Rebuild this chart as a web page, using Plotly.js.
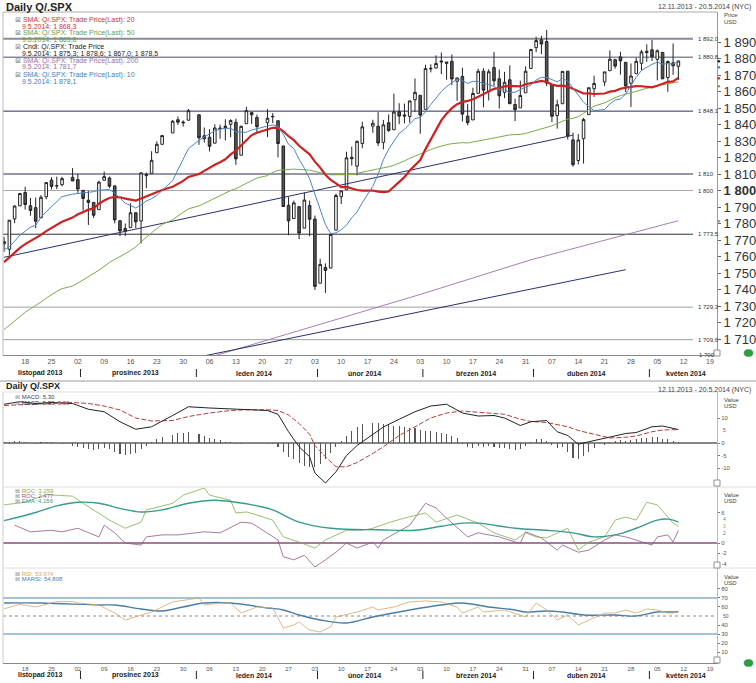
<!DOCTYPE html>
<html><head><meta charset="utf-8">
<script src="https://cdn.plot.ly/plotly-3.0.1.min.js"></script>
<style>html,body{margin:0;padding:0;background:#fff}#chart{width:756px;height:683px}</style>
</head><body><div id="chart"></div>
<script>
// ---------------- DATA ----------------
const dates = ['2013-11-12','2013-11-13','2013-11-14','2013-11-15','2013-11-18','2013-11-19','2013-11-20','2013-11-21','2013-11-22','2013-11-25','2013-11-26','2013-11-27','2013-11-29',
'2013-12-02','2013-12-03','2013-12-04','2013-12-05','2013-12-06','2013-12-09','2013-12-10','2013-12-11','2013-12-12','2013-12-13','2013-12-16','2013-12-17','2013-12-18','2013-12-19','2013-12-20','2013-12-23','2013-12-24','2013-12-26','2013-12-27','2013-12-30','2013-12-31',
'2014-01-02','2014-01-03','2014-01-06','2014-01-07','2014-01-08','2014-01-09','2014-01-10','2014-01-13','2014-01-14','2014-01-15','2014-01-16','2014-01-17','2014-01-21','2014-01-22','2014-01-23','2014-01-24','2014-01-27','2014-01-28','2014-01-29','2014-01-30','2014-01-31',
'2014-02-03','2014-02-04','2014-02-05','2014-02-06','2014-02-07','2014-02-10','2014-02-11','2014-02-12','2014-02-13','2014-02-14','2014-02-18','2014-02-19','2014-02-20','2014-02-21','2014-02-24','2014-02-25','2014-02-26','2014-02-27','2014-02-28',
'2014-03-03','2014-03-04','2014-03-05','2014-03-06','2014-03-07','2014-03-10','2014-03-11','2014-03-12','2014-03-13','2014-03-14','2014-03-17','2014-03-18','2014-03-19','2014-03-20','2014-03-21','2014-03-24','2014-03-25','2014-03-26','2014-03-27','2014-03-28','2014-03-31',
'2014-04-01','2014-04-02','2014-04-03','2014-04-04','2014-04-07','2014-04-08','2014-04-09','2014-04-10','2014-04-11','2014-04-14','2014-04-15','2014-04-16','2014-04-17','2014-04-21','2014-04-22','2014-04-23','2014-04-24','2014-04-25','2014-04-28','2014-04-29','2014-04-30',
'2014-05-01','2014-05-02','2014-05-05','2014-05-06','2014-05-07','2014-05-08','2014-05-09'];

const opens = [1769.0,1764.4,1782.8,1790.7,1798.8,1790.8,1789.6,1783.5,1796.2,1806.3,1802.9,1803.5,1808.0,
1806.6,1800.1,1794.1,1792.8,1788.4,1806.2,1807.6,1802.8,1781.7,1777.0,1777.5,1786.5,1781.5,1809.0,1810.4,1822.9,1828.0,1834.9,1842.9,1841.5,1842.6,
1845.9,1833.2,1832.3,1828.7,1837.9,1839.0,1840.1,1841.3,1821.4,1840.5,1847.2,1844.2,1841.1,1844.7,1842.3,1827.0,1791.0,1783.0,1790.2,1777.2,1790.9,
1782.7,1743.8,1753.4,1753.0,1776.0,1796.2,1800.5,1820.1,1814.8,1828.5,1839.0,1838.9,1829.2,1841.1,1836.8,1847.7,1845.8,1844.9,1855.1,
1857.7,1849.2,1874.1,1874.2,1878.5,1877.9,1878.3,1866.2,1869.1,1845.1,1842.8,1858.9,1872.3,1860.1,1874.5,1867.7,1859.5,1867.1,1852.1,1850.1,1859.2,
1874.0,1886.6,1891.4,1890.3,1863.9,1845.5,1852.6,1872.3,1830.7,1818.2,1831.4,1846.0,1861.7,1865.8,1872.6,1879.3,1881.0,1877.7,1865.0,1870.8,1877.1,
1884.4,1885.3,1879.5,1883.7,1868.5,1877.4,1875.3];

const highs = [1771.8,1782.0,1791.0,1798.2,1802.3,1795.5,1795.7,1797.2,1804.8,1808.1,1808.4,1808.3,1813.6,
1810.0,1800.1,1799.8,1792.8,1806.0,1811.5,1808.5,1803.0,1782.0,1780.0,1792.2,1786.8,1811.1,1810.9,1823.8,1829.8,1833.3,1842.8,1844.9,1842.5,1849.4,
1845.9,1838.2,1837.2,1840.1,1840.0,1843.2,1843.2,1843.5,1839.3,1850.8,1847.2,1846.0,1849.3,1846.9,1842.3,1827.0,1796.0,1793.9,1790.2,1798.8,1793.9,
1784.8,1758.7,1755.8,1774.1,1798.0,1799.9,1823.5,1826.6,1830.3,1841.7,1842.9,1847.5,1842.8,1846.1,1858.7,1852.9,1852.7,1854.5,1867.9,
1857.7,1876.2,1876.5,1881.9,1883.6,1877.9,1882.4,1868.4,1874.4,1852.4,1862.3,1873.8,1874.1,1873.5,1884.0,1873.3,1871.9,1875.9,1855.6,1866.6,1875.2,
1885.8,1893.2,1893.8,1897.3,1864.0,1855.0,1872.4,1872.5,1835.1,1834.2,1844.0,1862.3,1869.6,1871.9,1884.9,1879.8,1884.1,1877.7,1877.0,1880.6,1885.2,
1888.6,1891.3,1885.5,1883.7,1878.8,1889.1,1878.6];

const lows = [1762.9,1760.6,1780.2,1790.7,1788.4,1784.7,1777.2,1783.5,1794.7,1800.6,1800.8,1802.6,1805.8,
1798.6,1787.9,1779.1,1783.4,1788.4,1806.2,1801.4,1780.1,1772.3,1772.4,1777.5,1777.1,1767.9,1801.4,1810.4,1822.9,1828.0,1834.9,1839.8,1838.8,1842.4,
1827.7,1829.1,1823.7,1828.7,1831.4,1830.4,1832.4,1815.5,1821.4,1840.5,1840.3,1835.2,1832.4,1840.9,1820.1,1790.3,1772.9,1783.0,1770.5,1777.2,1772.3,
1739.7,1743.8,1737.9,1753.0,1776.0,1791.8,1800.5,1815.1,1809.2,1825.6,1835.0,1827.0,1824.9,1835.6,1836.8,1840.2,1840.7,1841.1,1847.7,
1834.4,1849.2,1871.6,1874.2,1870.6,1867.1,1863.9,1854.4,1841.9,1839.6,1842.8,1858.9,1850.4,1854.6,1863.5,1849.7,1856.0,1852.6,1842.1,1850.1,1859.2,
1874.0,1883.8,1882.7,1863.3,1841.5,1837.5,1852.4,1830.9,1814.4,1815.8,1816.3,1846.0,1856.7,1863.2,1872.6,1873.9,1870.2,1859.7,1850.6,1870.8,1872.7,
1878.0,1878.5,1866.8,1867.7,1859.8,1870.1,1867.0];

const closes = [1767.7,1782.0,1790.6,1798.2,1791.5,1787.9,1781.4,1795.9,1804.8,1802.5,1802.8,1807.2,1805.8,
1800.9,1795.2,1792.8,1785.0,1805.1,1808.4,1802.6,1782.2,1775.5,1775.3,1786.5,1781.0,1810.7,1809.6,1818.3,1828.0,1833.3,1842.0,1841.4,1841.1,1848.4,
1832.0,1831.4,1826.8,1837.9,1837.5,1838.1,1842.4,1819.2,1838.9,1848.4,1845.9,1838.7,1843.8,1844.9,1828.5,1790.3,1781.6,1792.5,1774.2,1794.2,1782.6,
1741.9,1755.2,1751.6,1773.4,1797.0,1799.8,1819.8,1819.3,1829.8,1838.6,1840.8,1828.8,1839.8,1836.3,1847.6,1845.1,1845.2,1854.3,1859.5,
1845.7,1873.9,1873.8,1877.0,1878.0,1877.2,1867.6,1868.2,1846.3,1841.1,1858.8,1872.3,1860.8,1872.0,1866.5,1857.4,1865.6,1852.6,1849.0,1857.6,1872.3,
1885.5,1890.9,1888.8,1865.1,1845.0,1852.0,1872.2,1833.1,1815.7,1830.6,1843.0,1862.3,1864.9,1871.9,1879.6,1875.4,1878.6,1863.4,1869.4,1878.3,1884.0,
1883.7,1881.1,1884.7,1867.7,1878.2,1875.6,1878.5];

const sma10 = [1764.0,1765.9,1769.3,1773.0,1775.3,1777.8,1778.9,1783.8,1787.2,1790.3,1793.8,1796.3,1797.8,
1798.1,1798.4,1798.9,1799.3,1800.2,1800.6,1800.6,1798.5,1795.4,1792.3,1790.9,1789.4,1791.2,1793.7,1795.0,1797.0,1800.0,1806.0,1812.6,1819.2,1825.4,
1830.5,1832.6,1834.3,1836.2,1837.2,1837.7,1837.7,1835.5,1835.3,1835.3,1836.7,1837.4,1839.1,1839.8,1838.9,1834.1,1828.0,1825.4,1818.9,1813.5,1807.1,
1797.5,1788.6,1779.3,1773.8,1774.4,1776.2,1779.0,1783.5,1787.0,1792.6,1802.5,1809.9,1818.7,1825.0,1830.1,1834.6,1837.1,1840.6,1843.6,
1844.3,1847.6,1852.1,1855.8,1860.0,1863.0,1865.2,1867.5,1866.7,1864.9,1866.2,1866.0,1864.7,1864.2,1863.1,1861.1,1860.9,1859.3,1859.6,1861.3,1862.6,
1863.9,1866.9,1868.6,1868.5,1867.2,1865.9,1867.8,1866.3,1862.1,1857.9,1853.6,1850.8,1848.4,1849.1,1852.5,1854.9,1855.5,1858.5,1863.9,1868.7,1872.8,
1874.9,1876.5,1877.8,1876.6,1876.9,1876.6,1878.1];

const sma20 = [1756.6,1759.6,1762.5,1765.2,1767.5,1769.2,1770.9,1773.1,1775.4,1777.4,1778.9,1781.1,1783.6,
1785.6,1786.9,1788.4,1789.1,1792.0,1793.9,1795.5,1796.2,1795.9,1795.1,1794.5,1793.9,1795.1,1796.5,1797.6,1798.8,1800.3,1802.3,1804.0,1805.8,1808.2,
1810.0,1811.9,1814.0,1815.6,1817.1,1818.9,1821.9,1824.1,1827.3,1830.4,1833.6,1835.0,1836.7,1838.0,1838.1,1835.9,1832.9,1830.5,1827.1,1824.4,1821.9,
1817.5,1813.9,1809.6,1806.4,1804.3,1802.1,1802.2,1801.2,1800.3,1799.9,1800.0,1799.3,1799.0,1799.4,1802.3,1805.4,1808.1,1812.1,1815.3,
1818.5,1825.1,1831.0,1837.3,1842.5,1846.6,1849.9,1852.3,1853.7,1854.3,1855.3,1856.8,1858.4,1860.0,1861.6,1862.1,1863.1,1863.4,1863.2,1863.1,1864.4,
1865.0,1865.8,1866.4,1865.8,1864.2,1863.4,1863.6,1863.0,1861.7,1860.3,1858.8,1858.9,1858.5,1858.8,1859.9,1860.4,1861.7,1862.4,1863.0,1863.3,1863.2,
1862.9,1862.5,1863.5,1864.6,1865.9,1866.1,1868.3];

const sma50 = [1715.7,1718.3,1721.0,1723.9,1726.2,1728.3,1730.2,1732.4,1734.8,1736.9,1738.8,1740.5,1742.1,
1743.9,1745.8,1747.7,1749.6,1751.7,1754.0,1756.4,1758.2,1759.8,1761.7,1763.7,1765.8,1768.9,1771.9,1774.4,1776.9,1779.4,1782.3,1784.7,1786.8,1788.9,
1790.7,1792.2,1793.8,1795.5,1797.1,1798.6,1800.0,1801.1,1802.8,1804.5,1806.1,1807.6,1809.0,1811.0,1812.2,1812.5,1812.8,1813.0,1812.7,1812.6,1812.4,
1811.5,1811.0,1810.1,1809.5,1809.4,1809.3,1809.6,1809.8,1810.4,1811.3,1812.2,1813.1,1813.8,1814.4,1815.3,1816.5,1817.9,1819.5,1820.9,
1822.2,1823.5,1824.8,1826.0,1827.0,1827.8,1828.4,1828.9,1829.0,1828.8,1829.4,1830.2,1830.9,1831.6,1832.1,1832.5,1833.0,1833.7,1833.9,1834.0,1834.6,
1835.5,1836.5,1837.3,1838.1,1839.2,1840.6,1842.2,1843.3,1843.8,1844.7,1846.8,1848.9,1851.2,1853.1,1854.8,1856.3,1857.5,1858.4,1859.1,1859.9,1860.8,
1861.9,1862.7,1863.7,1864.1,1864.8,1865.4,1865.8];

const sma200Dates = ['2013-11-12','2013-12-02','2014-01-02','2014-02-03','2014-03-03','2014-04-01','2014-05-09'];
const sma200Vals  = [1668.0,1680.0,1697.0,1718.0,1737.0,1758.0,1781.7];

// trend lines (start date, start price, end date, end price)
const trendStartDates  = ['2013-11-12','2013-12-13'];
const trendStartPrices = [1759.5,1690.0];
const trendEndDates    = ['2014-04-11','2014-04-25'];
const trendEndPrices   = [1833.5,1752.0];

const levels      = [1892.0,1880.8,1848.1,1810.0,1800.0,1773.5,1729.3,1709.6];
const levelLabels = ['1 892,0','1 880,8','1 848,1','1 810','1 800','1 773,5','1 729,3','1 709,6'];

const priceTicks = [1710,1720,1730,1740,1750,1760,1770,1780,1790,1800,1810,1820,1830,1840,1850,1860,1870,1880,1890];

const tickDates  = ['2013-11-18','2013-11-25','2013-12-02','2013-12-09','2013-12-16','2013-12-23','2013-12-30','2014-01-06','2014-01-13','2014-01-20','2014-01-27','2014-02-03','2014-02-10','2014-02-17','2014-02-24','2014-03-03','2014-03-10','2014-03-17','2014-03-24','2014-03-31','2014-04-07','2014-04-14','2014-04-21','2014-04-28','2014-05-05','2014-05-12','2014-05-19'];
const tickLabels = ['18','25','02','09','16','23','30','06','13','20','27','03','10','17','24','03','10','17','24','31','07','14','21','28','05','12','19'];
const monthNames = ['listopad 2013','prosinec 2013','leden 2014','únor 2014','březen 2014','duben 2014','květen 2014'];

// MACD
const histVals = [0.4,0.6,0.8,0.9,0.5,0.2,-0.2,0.3,0.6,0.5,0.2,
-0.5,-1.0,-1.5,-2.0,-2.3,-2.8,-2.2,-2.0,-2.4,-3.5,-4.5,-4.8,-4.2,-4.0,-2.5,-1.2,
0.3,1.5,2.5,3.3,4.0,4.2,4.4,3.8,3.0,2.2,1.8,1.2,
0.5,0.3,-0.2,-0.3,0.1,0.2,-0.1,-0.2,-0.4,
-1.5,-3.5,-5.5,-6.5,-8.0,-9.0,-9.6,-9.5,-8.5,-6.5,-4.0,
-1.5,0.8,3.0,5.0,6.5,7.5,8.0,8.0,7.8,7.5,7.0,6.8,6.5,6.0,6.0,5.2,5.0,4.8,4.4,4.0,3.5,2.8,2.0,
-0.5,-1.5,-1.8,-1.2,-1.5,-1.3,-1.6,-2.0,-1.8,-2.4,-2.8,-2.2,-1.0,
0.6,1.5,1.8,0.8,-0.8,
-2.0,-1.5,-3.5,-6.0,-6.2,-5.0,-3.5,-2.0,-0.8,
0.5,0.9,1.2,0.9,1.4,1.6,2.0,2.2,2.3,2.4,1.8,1.6,1.0,0.3];
const macdDates = ['2013-11-12','2013-11-15','2013-11-20','2013-11-25','2013-11-29','2013-12-04','2013-12-09','2013-12-12','2013-12-17','2013-12-20','2013-12-26','2013-12-31','2014-01-06','2014-01-10','2014-01-15','2014-01-21','2014-01-23','2014-01-27','2014-01-29','2014-01-31','2014-02-03','2014-02-05','2014-02-07','2014-02-11','2014-02-13','2014-02-18','2014-02-20','2014-02-25','2014-02-28','2014-03-05','2014-03-10','2014-03-13','2014-03-18','2014-03-21','2014-03-25','2014-03-28','2014-04-01','2014-04-04','2014-04-08','2014-04-10','2014-04-14','2014-04-16','2014-04-22','2014-04-25','2014-04-29','2014-05-02','2014-05-06','2014-05-09'];
const macdVals = [15.5,16.5,15.8,16.2,15.8,13.5,12.5,8.5,5.5,6.5,11.0,14.5,14.0,13.6,13.4,13.0,11.5,4.5,-1.5,-5.5,-12.0,-16.0,-11.5,-5.0,-1.0,3.5,6.4,9.5,12.5,14.8,15.5,12.0,10.8,11.0,10.0,7.0,8.5,9.0,4.5,3.0,-0.5,0.5,2.5,3.8,4.2,6.5,6.8,5.38];
const signalVals = [15.0,15.3,15.5,15.7,16.2,15.8,14.8,13.2,10.0,8.8,9.0,10.6,12.0,13.0,13.3,13.3,13.0,11.2,7.8,3.5,-1.0,-5.5,-9.5,-9.5,-7.8,-4.2,-1.5,3.0,6.5,10.0,12.0,12.8,12.3,12.0,11.5,9.5,8.6,8.2,7.5,6.5,5.0,4.0,2.0,2.3,2.8,4.5,5.2,5.36];

// ROC panel
const roc1Dates = ['2013-11-12','2013-11-18','2013-11-22','2013-11-29','2013-12-03','2013-12-06','2013-12-10','2013-12-13','2013-12-18','2013-12-19','2013-12-26','2013-12-30','2014-01-03','2014-01-06','2014-01-10','2014-01-13','2014-01-15','2014-01-17','2014-01-22','2014-01-24','2014-01-29','2014-02-03','2014-02-05','2014-02-11','2014-02-14','2014-02-18','2014-02-21','2014-02-26','2014-03-04','2014-03-06','2014-03-12','2014-03-18','2014-03-21','2014-03-27','2014-03-31','2014-04-02','2014-04-04','2014-04-10','2014-04-14','2014-04-16','2014-04-21','2014-04-23','2014-04-25','2014-04-29','2014-05-01','2014-05-05','2014-05-07','2014-05-08','2014-05-09'];
const roc1Vals = [7.5,8.0,9.5,9.2,7.8,5.9,4.5,2.9,4.1,6.5,7.8,9.4,10.8,9.4,8.4,5.9,6.1,5.5,4.5,1.2,0.2,-1.0,0.6,2.5,2.5,2.9,4.0,4.9,5.9,4.1,5.5,3.9,2.0,0.6,2.0,1.2,1.0,2.9,-1.4,0.2,1.2,4.5,5.1,4.5,8.0,7.5,5.1,3.9,3.26];
const roc2Dates = ['2013-11-14','2013-11-19','2013-11-25','2013-11-27','2013-12-02','2013-12-04','2013-12-06','2013-12-09','2013-12-11','2013-12-13','2013-12-18','2013-12-19','2013-12-24','2013-12-27','2014-01-03','2014-01-08','2014-01-10','2014-01-14','2014-01-16','2014-01-21','2014-01-23','2014-01-24','2014-01-28','2014-01-30','2014-02-03','2014-02-05','2014-02-07','2014-02-11','2014-02-13','2014-02-18','2014-02-19','2014-02-20','2014-02-27','2014-03-04','2014-03-06','2014-03-10','2014-03-12','2014-03-14','2014-03-18','2014-03-24','2014-03-27','2014-03-28','2014-03-31','2014-04-03','2014-04-08','2014-04-09','2014-04-14','2014-04-16','2014-04-21','2014-04-23','2014-04-25','2014-04-29','2014-05-02','2014-05-05','2014-05-07','2014-05-08','2014-05-09'];
const roc2Vals = [3.5,2.2,2.5,2.2,2.9,2.0,1.2,3.5,2.0,0.0,-0.4,1.2,1.6,1.6,2.2,2.0,3.1,4.1,3.9,2.0,0.6,-2.7,-3.3,-2.4,-4.7,-3.3,-1.8,0.0,-1.0,0.2,-1.0,0.6,3.5,7.8,6.9,4.9,3.1,1.2,2.0,1.2,0.2,0.0,2.2,1.0,-1.4,-0.4,-1.8,-1.4,0.6,1.6,1.2,0.6,-0.4,1.2,1.6,0.2,2.48];
const emaDates = ['2013-11-12','2013-11-20','2013-11-26','2013-12-02','2013-12-06','2013-12-12','2013-12-18','2013-12-24','2013-12-31','2014-01-07','2014-01-13','2014-01-17','2014-01-22','2014-01-29','2014-02-06','2014-02-19','2014-02-28','2014-03-07','2014-03-13','2014-03-18','2014-03-27','2014-04-04','2014-04-11','2014-04-17','2014-04-23','2014-04-29','2014-05-05','2014-05-07','2014-05-09'];
const emaVals = [4.4,6.0,7.3,8.0,7.8,6.8,6.1,6.5,7.8,8.4,8.0,7.3,6.5,4.1,2.9,2.6,2.5,3.3,3.9,3.9,2.9,2.5,2.0,1.2,1.6,2.9,4.5,4.7,4.16];

// RSI panel
const rsiDates = ['2013-11-12','2013-11-15','2013-11-20','2013-11-26','2013-11-29','2013-12-02','2013-12-06','2013-12-11','2013-12-13','2013-12-18','2013-12-20','2013-12-26','2014-01-02','2014-01-03','2014-01-08','2014-01-10','2014-01-14','2014-01-17','2014-01-22','2014-01-24','2014-01-28','2014-01-29','2014-01-31','2014-02-04','2014-02-06','2014-02-07','2014-02-13','2014-02-18','2014-02-19','2014-02-24','2014-02-27','2014-03-04','2014-03-07','2014-03-12','2014-03-13','2014-03-18','2014-03-19','2014-03-25','2014-03-28','2014-03-31','2014-04-02','2014-04-04','2014-04-08','2014-04-10','2014-04-14','2014-04-16','2014-04-21','2014-04-23','2014-04-25','2014-04-29','2014-05-01','2014-05-05','2014-05-07','2014-05-08','2014-05-09'];
const rsiVals = [58.0,63.0,60.0,66.0,66.0,64.4,62.2,53.3,45.6,51.1,54.4,65.6,70.0,62.2,64.4,64.4,53.3,60.0,58.9,36.7,40.0,43.3,34.4,32.2,37.8,48.9,54.4,60.0,56.7,60.0,65.6,66.7,65.6,60.0,53.3,60.0,54.4,56.7,51.1,49.0,64.4,56.7,45.6,51.0,40.0,45.6,53.3,53.3,56.7,53.3,57.8,56.7,53.3,53.3,53.97];
const marsiDates = ['2013-11-12','2013-11-21','2013-12-06','2013-12-11','2013-12-18','2013-12-24','2013-12-30','2014-01-03','2014-01-10','2014-01-21','2014-01-24','2014-01-29','2014-02-04','2014-02-11','2014-02-18','2014-02-27','2014-03-07','2014-03-13','2014-03-20','2014-03-27','2014-03-31','2014-04-04','2014-04-09','2014-04-15','2014-04-23','2014-04-29','2014-05-05','2014-05-08','2014-05-09'];
const marsiVals = [64.4,64.4,62.2,62.2,57.8,55.6,60.0,64.4,64.4,58.9,56.7,51.1,45.6,42.2,48.9,56.7,62.2,64.4,60.0,56.7,54.4,55.6,54.4,51.1,51.1,50.0,54.4,54.4,54.81];

// ---------------- LAYOUT HELPERS ----------------
const W = 756, H = 683;
const px = v => v / W;
const py = v => 1 - v / H;
const FONT = 'Liberation Sans, Arial, sans-serif';
const XL = 3, XR = 717;
const xRange = ['2013-11-11 19:00', '2014-05-20 08:00'];
const fmtK = v => { const s = String(v); return s.length === 4 ? s[0] + ' ' + s.slice(1) : s; };
const last = a => a[a.length - 1];

// ---------------- TRACES ----------------
const traces = [];
traces.push({type:'candlestick', x:dates, open:opens, high:highs, low:lows, close:closes,
  xaxis:'x', yaxis:'y', whiskerwidth:0, hoverinfo:'skip', showlegend:false,
  increasing:{line:{color:'#222', width:1}, fillcolor:'#ffffff'},
  decreasing:{line:{color:'#222', width:1}, fillcolor:'#555555'}});
traces.push({type:'scatter', mode:'lines', x:sma200Dates, y:sma200Vals, xaxis:'x', yaxis:'y', line:{color:'#a77fb0', width:1}, hoverinfo:'skip', showlegend:false});
for (let k = 0; k < trendStartDates.length; k++) {
  traces.push({type:'scatter', mode:'lines', x:[trendStartDates[k], trendEndDates[k]], y:[trendStartPrices[k], trendEndPrices[k]],
    xaxis:'x', yaxis:'y', line:{color:'#2c3068', width:1}, hoverinfo:'skip', showlegend:false});
}
traces.push({type:'scatter', mode:'lines', x:dates, y:sma50, xaxis:'x', yaxis:'y', line:{color:'#78ad48', width:1}, hoverinfo:'skip', showlegend:false});
traces.push({type:'scatter', mode:'lines', x:dates, y:sma20, xaxis:'x', yaxis:'y', line:{color:'#cc2222', width:2.2}, hoverinfo:'skip', showlegend:false});
traces.push({type:'scatter', mode:'lines', x:dates, y:sma10, xaxis:'x', yaxis:'y', line:{color:'#4a86c5', width:1}, hoverinfo:'skip', showlegend:false});

// MACD
traces.push({type:'bar', x:dates, y:histVals, xaxis:'x2', yaxis:'y2', width:0.2*86400000, marker:{color:'#555', line:{width:0}}, hoverinfo:'skip', showlegend:false});
traces.push({type:'scatter', mode:'lines', x:macdDates, y:signalVals, xaxis:'x2', yaxis:'y2', line:{color:'#b0403a', width:1, dash:'5px,2px'}, hoverinfo:'skip', showlegend:false});
traces.push({type:'scatter', mode:'lines', x:macdDates, y:macdVals, xaxis:'x2', yaxis:'y2', line:{color:'#222', width:1}, hoverinfo:'skip', showlegend:false});
// ROC
traces.push({type:'scatter', mode:'lines', x:roc2Dates, y:roc2Vals, xaxis:'x2', yaxis:'y3', line:{color:'#8e5a86', width:0.8}, hoverinfo:'skip', showlegend:false});
traces.push({type:'scatter', mode:'lines', x:roc1Dates, y:roc1Vals, xaxis:'x2', yaxis:'y3', line:{color:'#7fae4e', width:0.8}, hoverinfo:'skip', showlegend:false});
traces.push({type:'scatter', mode:'lines', x:emaDates, y:emaVals, xaxis:'x2', yaxis:'y3', line:{color:'#3a9a8c', width:1.4, shape:'spline'}, hoverinfo:'skip', showlegend:false});
// RSI
traces.push({type:'scatter', mode:'lines', x:marsiDates, y:marsiVals, xaxis:'x2', yaxis:'y4', line:{color:'#4a7ea8', width:1.4, shape:'spline'}, hoverinfo:'skip', showlegend:false});
traces.push({type:'scatter', mode:'lines', x:rsiDates, y:rsiVals, xaxis:'x2', yaxis:'y4', line:{color:'#d9a468', width:0.8}, hoverinfo:'skip', showlegend:false});

// ---------------- AXES ----------------
const baseX = {type:'date', range:xRange, rangebreaks:[{bounds:['sat','mon']}], domain:[px(XL), px(XR)],
  tickvals:tickDates, ticktext:tickLabels, tickfont:{size:7, color:'#555', family:FONT}, ticks:'',
  showgrid:false, zeroline:false, showline:true, linecolor:'#888', linewidth:1, fixedrange:true,
  rangeslider:{visible:false}};
const smallY = {side:'right', showgrid:false, zeroline:false, showline:true, linecolor:'#bbb', ticks:'outside', ticklen:2,
  tickcolor:'#777', tickfont:{size:6, color:'#555', family:FONT}, fixedrange:true};

const layout = {
  width:W, height:H, margin:{l:0, r:0, t:0, b:0}, paper_bgcolor:'#fff', plot_bgcolor:'#fff',
  font:{family:FONT}, showlegend:false, bargap:0,
  xaxis: Object.assign({}, baseX, {anchor:'y'}),
  xaxis2: Object.assign({}, baseX, {anchor:'y4', tickfont:{size:6, color:'#555', family:FONT}}),
  yaxis: {domain:[py(355), py(12)], range:[1700.3, 1908.2], side:'right', anchor:'x',
    tickvals:priceTicks, ticktext:priceTicks.map(v => v === 1800 ? '<b>1 800</b>' : fmtK(v)),
    tickfont:{size:13, color:'#333', family:FONT}, ticks:'outside', ticklen:3, tickcolor:'#666',
    showgrid:false, zeroline:false, showline:true, linecolor:'#999', fixedrange:true},
  yaxis2: Object.assign({}, smallY, {domain:[py(487), py(392)], range:[-17.6, 20.4], anchor:'x2',
    tickvals:[-10,-5,0,10], ticktext:['-10','-5','0','10']}),
  yaxis3: Object.assign({}, smallY, {domain:[py(568), py(487)], range:[-4.9, 11], anchor:'x2',
    tickvals:[-4,-2,0,6], ticktext:['-4','-2','0','6']}),
  yaxis4: Object.assign({}, smallY, {domain:[py(663), py(568)], range:[-2.2, 103.3], anchor:'x2',
    tickvals:[10,20,30,40,60,70,80], ticktext:['10','20','30','40','60','70','80']}),
  shapes:[], annotations:[]
};

const S = layout.shapes, A = layout.annotations;
const hline = (y, yref, x0, x1, color, width, dash) => S.push({type:'line', xref:'paper', yref:yref, x0:px(x0), x1:px(x1), y0:y, y1:y, line:{color:color, width:width, dash:dash || 'solid'}, layer:'below'});
const pline = (x0, y0, x1, y1, color, width) => S.push({type:'line', xref:'paper', yref:'paper', x0:px(x0), x1:px(x1), y0:py(y0), y1:py(y1), line:{color:color, width:width}});

// panel frames
pline(XL, 12, XR, 12, '#aaa', 1);
pline(XL, 12, XL, 355, '#bbb', 1);
pline(0, 381, W, 381, '#ccc', 2);
pline(XL, 392, XR, 392, '#ddd', 1);
pline(XL, 487, W, 487, '#ddd', 1);
pline(XL, 568, W, 568, '#ddd', 1);
pline(XL, 392, XL, 663, '#ccc', 1);

// level lines
const levelStyle = [['#8a8a9a',2],['#8a8a9a',1.5],['#2c2f5c',1],['#2c2f5c',1],['#aaaaaa',1],['#333333',1],['#a0a0a0',1],['#a0a0a0',1]];
levels.forEach((lv, k) => {
  hline(lv, 'y', XL, 693, levelStyle[k][0], levelStyle[k][1]);
  A.push({xref:'paper', yref:'y', x:px(696), y:lv, text:levelLabels[k], showarrow:false, xanchor:'left', yanchor:'middle', font:{size:6, color:'#333', family:FONT}});
});
A.push({xref:'paper', yref:'y', x:px(697), y:1700.3, text:'1 700', showarrow:false, xanchor:'left', yanchor:'middle', font:{size:6, color:'#333', family:FONT}});

// indicator reference lines
hline(0, 'y2', XL, XR, '#111', 1);
hline(0, 'y3', XL, XR, '#a57a9a', 2);
hline(70, 'y4', XL, XR, '#4f86ab', 1);
hline(30, 'y4', XL, XR, '#4f86ab', 1);
hline(50, 'y4', XL, XR, '#888', 1, 'dot');

// small box icons and green dots
[353, 483, 565, 660].forEach(y => S.push({type:'rect', xref:'paper', yref:'paper', x0:px(714), x1:px(720), y0:py(y+3), y1:py(y-3), line:{color:'#777', width:0.8}, fillcolor:'#fff'}));
[353, 663].forEach(y => S.push({type:'circle', xref:'paper', yref:'paper', x0:px(744), x1:px(753), y0:py(y+3.5), y1:py(y-3.5), line:{color:'#2a8a3a', width:0.5}, fillcolor:'#2f9e3f'}));

// text helpers
const txt = (x, y, t, size, color, anchor) => A.push({xref:'paper', yref:'paper', x:px(x), y:py(y), text:t, showarrow:false, xanchor:anchor || 'left', yanchor:'middle', font:{size:size, color:color, family:FONT}});

txt(4, 7, '<b>Daily Q/.SPX</b>', 11, '#222');
txt(753, 7, '12.11.2013 - 20.5.2014 (NYC)', 7, '#444', 'right');
txt(4, 386, '<b>Daily Q/.SPX</b>', 9, '#222');
txt(753, 390, '12.11.2013 - 20.5.2014 (NYC)', 7, '#444', 'right');

const ICON = '<span style="color:#8a8a8a">⊠</span> ';
const legMain = [
  [20, ICON + 'SMA: Q/.SPX: Trade Price(Last): 20', '#cc3333'],
  [26, '9.5.2014: 1 868,3', '#cc3333'],
  [33, ICON + 'SMA: Q/.SPX: Trade Price(Last): 50', '#6aa040'],
  [39.5, '9.5.2014: 1 865,8', '#6aa040'],
  [47, ICON + 'Cndl: Q/.SPX: Trade Price', '#222'],
  [53, '9.5.2014: 1 875,3; 1 878,6; 1 867,0; 1 878,5', '#222'],
  [61, ICON + 'SMA: Q/.SPX: Trade Price(Last): 200', '#9a6f9e'],
  [67, '9.5.2014: 1 781,7', '#9a6f9e'],
  [75, ICON + 'SMA: Q/.SPX: Trade Price(Last): 10', '#3f7fc0'],
  [81, '9.5.2014: 1 878,1', '#3f7fc0']
];
legMain.forEach(l => txt(l[1].startsWith('<span') ? 13 : 20, l[0], l[1], 7, l[2]));

txt(13, 397, ICON + 'MACD: 5,30', 6, '#444');
txt(13, 403, ICON + 'MACD: 5,38, <span style="color:#b0403a">5,36</span>', 6, '#333');
txt(13, 491, ICON + 'ROC: 3,259', 6, '#7fae4e');
txt(13, 496, ICON + 'ROC: 2,477', 6, '#8e5a86');
txt(13, 501, ICON + 'EMA: 4,156', 6, '#3a9a8c');
txt(13, 574, ICON + 'RSI: 53,974', 6, '#d9a468');
txt(13, 579, ICON + 'MARSI: 54,808', 6, '#4a7ea8');

txt(722, 15, 'Price', 6, '#444');
txt(722, 22, 'USD', 6, '#444');
txt(722, 400, 'Value', 6, '#444');
txt(722, 406, 'USD', 6, '#444');
txt(722, 495, 'Value', 6, '#444');
txt(722, 501, 'USD', 6, '#444');
txt(722, 577, 'Value', 6, '#444');
txt(722, 583, 'USD', 6, '#444');

// last-value markers on right axes
const mark = (yref, v, color, shift) => A.push({xref:'paper', yref:yref, x:px(719), y:v, text:'●', showarrow:false, xanchor:'center', yanchor:'middle', yshift:shift || 0, font:{size:6, color:color}});
mark('y', last(closes), '#111', 0);
mark('y', last(sma10), '#3f7fc0', -5);
mark('y', last(sma20), '#cc2222', 0);
mark('y', last(sma50), '#6aa040', -4);
mark('y', last(sma200Vals), '#a77fb0', 0);
const tag = (yref, v, t, color, shift) => A.push({xref:'paper', yref:yref, x:px(721), y:v, text:t, showarrow:false, xanchor:'left', yanchor:'middle', yshift:shift || 0, font:{size:5, color:color, family:FONT}});
tag('y2', last(signalVals), '5', '#b0403a');
tag('y3', last(emaVals), '4', '#3a9a8c', 3);
tag('y3', last(roc1Vals), '3', '#7fae4e', 0);
tag('y3', last(roc2Vals), '2', '#8e5a86', -3);
tag('y4', 50, '50', '#555');

// month labels & separators under both x axes
const monthCenters = ['2013-11-20 18:00','2013-12-17 00:00','2014-01-16 12:00','2014-02-14 12:00','2014-03-17 12:00','2014-04-15 12:00','2014-05-12 12:00'];
const monthSeps = ['2013-12-02 12:00','2014-01-01 12:00','2014-02-03 12:00','2014-03-03 12:00','2014-04-01 12:00','2014-05-01 12:00'];
[[373, 'x'], [675, 'x2']].forEach(([yy, xr]) => {
  monthNames.forEach((m, k) => A.push({xref:xr, yref:'paper', x:monthCenters[k], y:py(yy), text:'<b>' + m + '</b>', showarrow:false, xanchor:'center', yanchor:'middle', font:{size:7, color:'#222', family:FONT}}));
  monthSeps.forEach(d => S.push({type:'line', xref:xr, yref:'paper', x0:d, x1:d, y0:py(yy - 4), y1:py(yy + 4), line:{color:'#222', width:1}}));
});

Plotly.newPlot('chart', traces, layout, {staticPlot:true, displayModeBar:false});
</script>
</body></html>
